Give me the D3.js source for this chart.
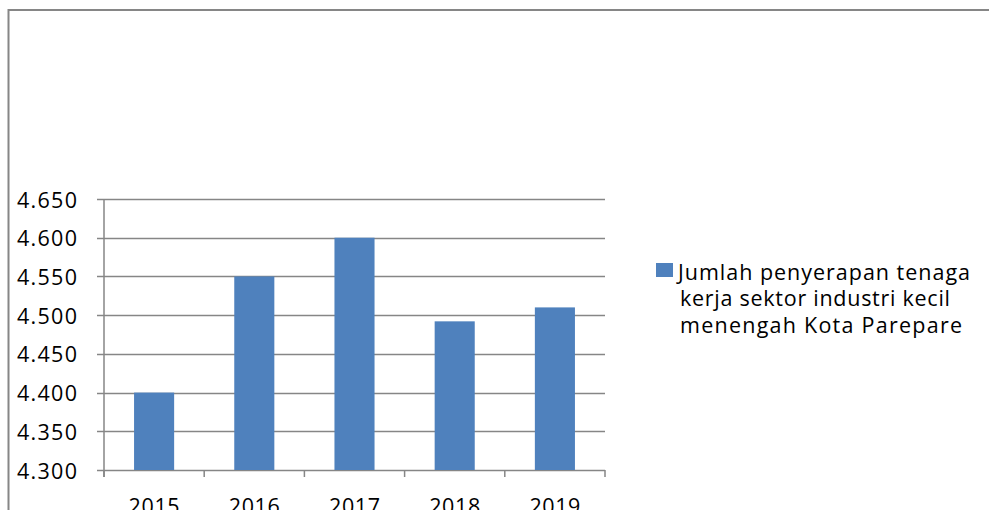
<!DOCTYPE html>
<html><head><meta charset="utf-8">
<script src="https://cdn.jsdelivr.net/npm/d3@7"></script>
<style>body{margin:0;background:#fff;overflow:hidden}svg{display:block}</style>
</head><body>
<svg id="chart" width="989" height="510"></svg>
<script>
const categories = ["2015","2016","2017","2018","2019"];
const values = [4.400, 4.550, 4.600, 4.492, 4.510];
const yTicks = [4.300, 4.350, 4.400, 4.450, 4.500, 4.550, 4.600, 4.650];
const legendLines = ["Jumlah penyerapan tenaga","kerja sektor industri kecil","menengah Kota Parepare"];
const legendWidths = [292, 270, 282];

const svg = d3.select("#chart");
const font = "'Open Sans', sans-serif";
// outer frame (top and left edges visible)
svg.append("path").attr("d","M8.5,1000 V10 H1000")
  .attr("fill","none").attr("stroke","#868686").attr("stroke-width",2);

const x = d3.scaleBand().domain(categories).range([104,605]).paddingInner(0.6).paddingOuter(0.3);
const y = d3.scaleLinear().domain([4.300,4.650]).range([470,199]);
const fmt = v => d3.format(".3f")(v);

// gridlines
svg.append("g").selectAll("line").data(yTicks).join("line")
  .attr("x1",97).attr("x2",605).attr("y1",d=>Math.round(y(d))+0.5).attr("y2",d=>Math.round(y(d))+0.5)
  .attr("stroke","#868686").attr("stroke-width",1.5);

// bars
svg.append("g").selectAll("rect").data(values).join("rect")
  .attr("x",(d,i)=>x(categories[i])).attr("width",x.bandwidth())
  .attr("y",d=>y(d)).attr("height",d=>y(4.300)-y(d)).attr("fill","#4f81bd");

// y axis line
svg.append("line").attr("x1",104).attr("x2",104).attr("y1",199).attr("y2",477)
  .attr("stroke","#868686").attr("stroke-width",1.5);
// x ticks at category boundaries
const edges = [x.range()[0]].concat(categories.map(c => x(c) + x.bandwidth()/2 + x.step()/2));
svg.append("g").selectAll("line").data(edges).join("line")
  .attr("x1",d=>d).attr("x2",d=>d).attr("y1",470).attr("y2",477)
  .attr("stroke","#868686").attr("stroke-width",1.5);

// y labels
svg.append("g").selectAll("text").data(yTicks).join("text")
  .attr("x",17).attr("y",d=>y(d)+8.5)
  .attr("font-family",font).attr("font-size",21.5).attr("fill","#000")
  .attr("textLength",60).attr("lengthAdjust","spacing")
  .text(d=>fmt(d));

// x labels
svg.append("g").selectAll("text").data(categories).join("text")
  .attr("x",d=>x(d)+x.bandwidth()/2-25.5).attr("y",514)
  .attr("font-family",font).attr("font-size",21.5).attr("fill","#000")
  .attr("textLength",51).attr("lengthAdjust","spacing")
  .text(d=>d);

// legend
svg.append("rect").attr("x",656).attr("y",263).attr("width",17).attr("height",14).attr("fill","#4f81bd");
svg.append("g").selectAll("text").data(legendLines).join("text")
  .attr("x",(d,i)=>i===0?678:680).attr("y",(d,i)=>279.5+i*26.5)
  .attr("font-family",font).attr("font-size",21.5).attr("fill","#000")
  .attr("textLength",(d,i)=>legendWidths[i]).attr("lengthAdjust","spacing")
  .text(d=>d);
</script>
</body></html>
